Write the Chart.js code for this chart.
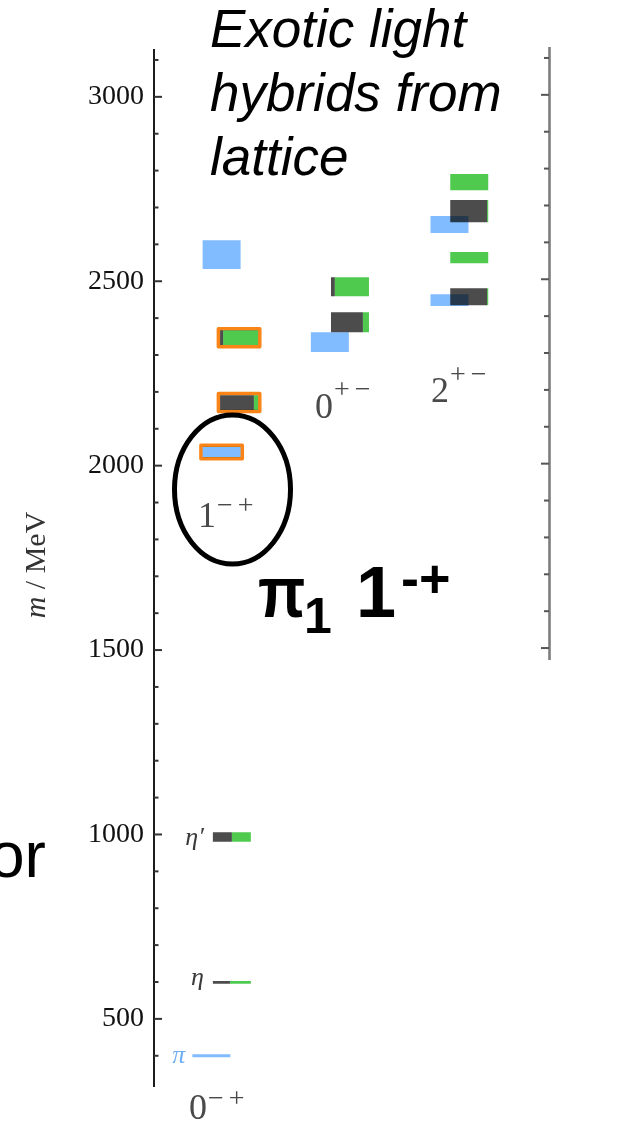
<!DOCTYPE html>
<html>
<head>
<meta charset="utf-8">
<title>Exotic light hybrids from lattice</title>
<script src="https://cdn.jsdelivr.net/npm/chart.js@4.4.1/dist/chart.umd.min.js"></script>
<style>
    html, body { margin: 0; padding: 0; background: #ffffff; }
    #wrap { position: relative; width: 619px; height: 1121px; }
</style>
</head>
<body>
<div id="wrap"><canvas id="chart"></canvas></div>
<script>
// J^PC columns of the spectrum
var columns = ['0-+', '1-+', '0+-', '2+-'];
var columnDigits = ['0', '1', '0', '2'];
var columnSuperscripts = ['\u2212+', '\u2212+', '+\u2212', '+\u2212'];

// isovector states (blue boxes), mass and error in MeV
var isovectorColumn = ['0-+', '1-+', '1-+', '0+-', '2+-', '2+-'];
var isovectorMass   = [400, 2037, 2572, 2335, 2449, 2654];
var isovectorError  = [4, 14, 39, 27, 16, 23];
var isovectorHybrid = [false, true, false, false, false, false];
var isovectorName   = ['\u03c0', '', '', '', '', ''];

// isoscalar states: dark part = light quark content, green part = strange content
var isoscalarColumn = ['0-+', '0-+', '1-+', '1-+', '0+-', '0+-', '2+-', '2+-', '2+-', '2+-'];
var isoscalarMass   = [599, 993, 2171, 2347, 2389, 2485, 2458, 2564, 2690, 2769];
var isoscalarError  = [4, 13, 20, 20, 27, 26, 23, 15, 30, 22];
var lightFraction   = [0.45, 0.5, 0.89, 0.08, 0.84, 0.1, 0.97, 0.0, 0.97, 0.0];
var isoscalarHybrid = [false, false, true, true, false, false, false, false, false, false];
var isoscalarName   = ['\u03b7', '\u03b7\u2032', '', '', '', '', '', '', '', ''];

var yMajorTicks = [500, 1000, 1500, 2000, 2500, 3000];
var yTickFirst = 400, yTickLast = 3100, yTickStep = 100;

/* layout and styles */
var Y_MIN = 318, Y_MAX = 3127, RIGHT_FRAME_MIN = 1473;
var X_MAX = 10.4;
var BOX_W = 1.0;
var ISOSCALAR_X = {'0-+': 2.05, '1-+': 2.24, '0+-': 5.16, '2+-': 8.30};
var ISOVECTOR_X = {'0-+': 1.51, '1-+': 1.78, '0+-': 4.63, '2+-': 7.78};
var LABEL_AT = {'0-+': [0.92, 228, 12], '1-+': [1.16, 1834, 13], '0+-': [4.24, 2129, 20], '2+-': [7.29, 2172, 19]};
var NAME_DY = {'\u03c0': 7.5, '\u03b7': 3, '\u03b7\u2032': 8};

var BLUE = '#80bcff';
var GREEN = '#4fca4f';
var DARK = '#4c4c4c';
var ORANGE = '#fb8418';

function rectPoints(x0, x1, lo, hi) {
    return [{x: x0, y: lo}, {x: x1, y: lo}, {x: x1, y: hi}, {x: x0, y: hi}, {x: x0, y: lo}];
}

function boxDataset(pts, color) {
    return {data: pts, backgroundColor: color, borderWidth: 0, fill: 'shape', pointRadius: 0, showLine: true};
}

function outlineDataset(pts) {
    return {data: pts, borderColor: ORANGE, borderWidth: 3.5, borderJoinStyle: 'round', fill: false, pointRadius: 0, showLine: true};
}

var datasets = [];
var padX = 0.045, padY = 4.5;

isovectorMass.forEach(function(m, i) {
    var x0 = ISOVECTOR_X[isovectorColumn[i]] - BOX_W / 2;
    var x1 = x0 + BOX_W;
    var e = isovectorError[i];
    if (isovectorHybrid[i])
        datasets.push(outlineDataset(rectPoints(x0 - padX, x1 + padX, m - e - padY, m + e + padY)));
    datasets.push(boxDataset(rectPoints(x0, x1, m - e, m + e), BLUE));
});

isoscalarMass.forEach(function(m, i) {
    var x0 = ISOSCALAR_X[isoscalarColumn[i]] - BOX_W / 2;
    var x1 = x0 + BOX_W;
    var xs = x0 + BOX_W * lightFraction[i];
    var e = isoscalarError[i];
    if (isoscalarHybrid[i])
        datasets.push(outlineDataset(rectPoints(x0 - padX, x1 + padX, m - e - padY, m + e + padY)));
    if (lightFraction[i] > 0)
        datasets.push(boxDataset(rectPoints(x0, xs, m - e, m + e), DARK));
    if (lightFraction[i] < 1)
        datasets.push(boxDataset(rectPoints(xs, x1, m - e, m + e), GREEN));
});

/* overlapping boxes darken each other like the original */
var multiplyPlugin = {
    id: 'multiply',
    beforeDatasetsDraw: function(chart) {
        chart.ctx.save();
        chart.ctx.globalCompositeOperation = 'multiply';
    },
    afterDatasetsDraw: function(chart) {
        chart.ctx.restore();
    }
};

function drawJpc(ctx, digit, sup, x, y, raise) {
    ctx.font = '36px "Liberation Serif"';
    ctx.fillStyle = '#4a4a4a';
    ctx.textAlign = 'left';
    ctx.textBaseline = 'alphabetic';
    ctx.fillText(digit, x, y);
    var w = ctx.measureText(digit).width;
    ctx.font = '28px "Liberation Serif"';
    ctx.letterSpacing = '5px';
    ctx.fillText(sup, x + w + 1, y - raise);
    ctx.letterSpacing = '0px';
}

var decorPlugin = {
    id: 'decor',
    afterDraw: function(chart) {
        var ctx = chart.ctx;
        var ys = chart.scales.y;
        var xs = chart.scales.x;
        var area = chart.chartArea;
        ctx.save();

        /* tick marks pointing into the plot */
        ctx.strokeStyle = '#333333';
        ctx.lineWidth = 2;
        ys.ticks.forEach(function(t) {
            var y = ys.getPixelForValue(t.value);
            var len = yMajorTicks.indexOf(t.value) >= 0 ? 8 : 4.5;
            ctx.beginPath();
            ctx.moveTo(area.left, y);
            ctx.lineTo(area.left + len, y);
            ctx.stroke();
        });

        /* right frame of the other panel */
        var yBottom = ys.getPixelForValue(RIGHT_FRAME_MIN);
        ctx.strokeStyle = '#7d7d7d';
        ctx.lineWidth = 2.6;
        ctx.beginPath();
        ctx.moveTo(area.right + 0.5, area.top - 3);
        ctx.lineTo(area.right + 0.5, yBottom);
        ctx.stroke();
        ctx.strokeStyle = '#555555';
        ctx.lineWidth = 2;
        ys.ticks.forEach(function(t) {
            if (t.value < RIGHT_FRAME_MIN) return;
            var y = ys.getPixelForValue(t.value) - 2;
            var len = yMajorTicks.indexOf(t.value) >= 0 ? 8 : 5;
            ctx.beginPath();
            ctx.moveTo(area.right, y);
            ctx.lineTo(area.right - len, y);
            ctx.stroke();
        });

        /* axis title */
        ctx.save();
        ctx.translate(37, 565);
        ctx.rotate(-Math.PI / 2);
        ctx.fillStyle = '#333333';
        ctx.textBaseline = 'middle';
        ctx.font = 'italic 30px "Liberation Serif"';
        var wM = ctx.measureText('m').width;
        ctx.font = '30px "Liberation Serif"';
        var wRest = ctx.measureText(' / MeV').width;
        var start = -(wM + wRest) / 2;
        ctx.textAlign = 'left';
        ctx.font = 'italic 30px "Liberation Serif"';
        ctx.fillText('m', start, 0);
        ctx.font = '30px "Liberation Serif"';
        ctx.fillText(' / MeV', start + wM, 0);
        ctx.restore();

        /* J^PC labels */
        columns.forEach(function(c, i) {
            var at = LABEL_AT[c];
            drawJpc(ctx, columnDigits[i], columnSuperscripts[i], xs.getPixelForValue(at[0]), ys.getPixelForValue(at[1]), at[2]);
        });

        /* state names */
        ctx.font = 'italic 26px "Liberation Serif"';
        ctx.textAlign = 'right';
        ctx.textBaseline = 'alphabetic';
        isovectorName.forEach(function(n, i) {
            if (!n) return;
            ctx.fillStyle = '#6eaef5';
            var x = xs.getPixelForValue(ISOVECTOR_X[isovectorColumn[i]] - BOX_W / 2) - 7;
            ctx.fillText(n, x, ys.getPixelForValue(isovectorMass[i]) + NAME_DY[n]);
        });
        isoscalarName.forEach(function(n, i) {
            if (!n) return;
            ctx.fillStyle = '#3a3a3a';
            var x = xs.getPixelForValue(ISOSCALAR_X[isoscalarColumn[i]] - BOX_W / 2) - 9;
            ctx.fillText(n, x, ys.getPixelForValue(isoscalarMass[i]) + NAME_DY[n]);
        });

        /* slide annotations */
        ctx.fillStyle = '#000000';
        ctx.textAlign = 'left';
        ctx.font = 'italic 53px "Liberation Sans"';
        ctx.fillText('Exotic light', 210, 47);
        ctx.fillText('hybrids from', 210, 111);
        ctx.fillText('lattice', 210, 175);

        ctx.font = '64px "Liberation Sans"';
        ctx.fillText('or', -11, 877);

        ctx.save();
        ctx.translate(258, 617);
        ctx.scale(0.86, 1);
        ctx.font = 'bold 72px "Liberation Sans"';
        ctx.fillText('\u03c0', 0, 0);
        ctx.restore();
        ctx.font = 'bold 50px "Liberation Sans"';
        ctx.fillText('1', 304, 633);
        ctx.font = 'bold 72px "Liberation Sans"';
        ctx.fillText('1', 356, 617);
        ctx.font = 'bold 54px "Liberation Sans"';
        ctx.fillText('-+', 401, 597);

        ctx.strokeStyle = '#000000';
        ctx.lineWidth = 5;
        ctx.beginPath();
        ctx.ellipse(232.5, 489.5, 58, 74.5, 0, 0, Math.PI * 2);
        ctx.stroke();

        ctx.restore();
    }
};

var chart = new Chart(document.getElementById('chart'), {
    type: 'line',
    data: {datasets: datasets},
    options: {
        responsive: true,
        maintainAspectRatio: false,
        animation: false,
        events: [],
        layout: {padding: {left: 0, top: 50, right: 70, bottom: 35}},
        plugins: {legend: {display: false}, tooltip: {enabled: false}},
        scales: {
            x: {type: 'linear', min: 0, max: X_MAX, display: false},
            y: {
                type: 'linear',
                min: Y_MIN,
                max: Y_MAX,
                afterFit: function(scale) { scale.width = 154; },
                afterBuildTicks: function(scale) {
                    var ticks = [];
                    for (var v = yTickFirst; v <= yTickLast; v += yTickStep) ticks.push({value: v});
                    scale.ticks = ticks;
                },
                grid: {display: false, drawTicks: false},
                border: {display: true, color: '#1c1c1c', width: 2},
                ticks: {
                    autoSkip: false,
                    padding: 10,
                    color: '#111111',
                    font: {family: '"Liberation Serif"', size: 28},
                    callback: function(v) { return yMajorTicks.indexOf(v) >= 0 ? String(v) : ''; }
                }
            }
        }
    },
    plugins: [multiplyPlugin, decorPlugin]
});
</script>
</body>
</html>
